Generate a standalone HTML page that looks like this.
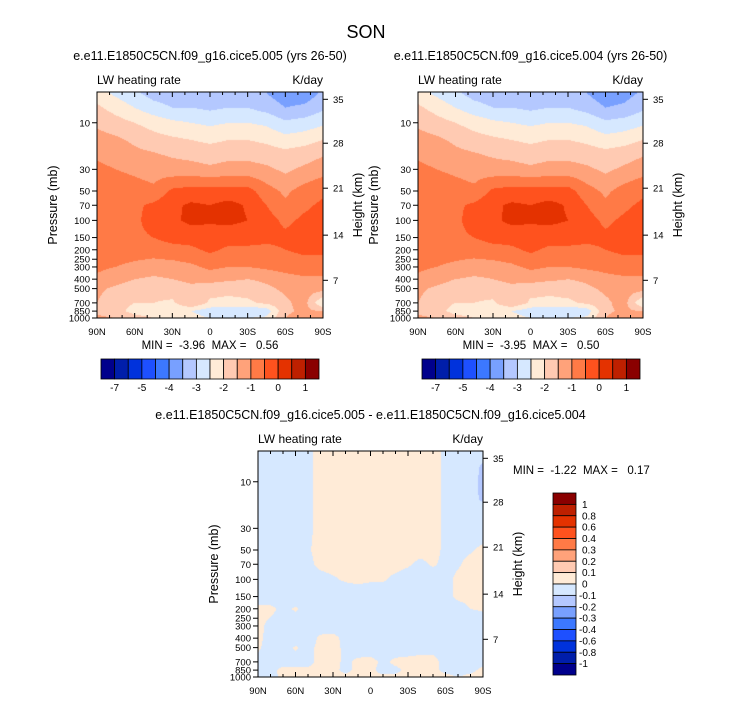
<!DOCTYPE html>
<html><head><meta charset="utf-8">
<style>
body{margin:0;background:#fff;}
#wrap{position:relative;width:733px;height:701px;overflow:hidden;font-family:"Liberation Sans",sans-serif;}
canvas{position:absolute;}
svg{position:absolute;left:0;top:0;}
.pre{white-space:pre;}
</style></head>
<body>
<div id="wrap">
<canvas id="c1"></canvas>
<canvas id="c2"></canvas>
<canvas id="c3"></canvas>
<svg id="ov" width="733" height="701"></svg>
</div>
<script>
const lats13=[90,75,60,45,30,15,0,-15,-30,-45,-60,-75,-90];
const lats19=[90,80,70,60,50,40,30,20,10,0,-10,-20,-30,-40,-50,-60,-70,-80,-90];
const plevs=[5,7,10,15,20,30,50,70,100,150,200,300,400,500,700,850,1000];
const fieldA=[
[-2.3,-2.6,-2.9,-3.2,-3.3,-3.3,-3.4,-3.3,-3.3,-3.5,-3.8,-3.8,-3.4],
[-1.9,-2.2,-2.5,-2.8,-3.0,-3.0,-3.1,-3.0,-3.0,-3.2,-3.5,-3.4,-3.1],
[-1.6,-1.8,-2.0,-2.2,-2.4,-2.5,-2.6,-2.5,-2.5,-2.6,-2.9,-2.8,-2.6],
[-1.3,-1.4,-1.6,-1.8,-1.9,-2.0,-2.1,-2.0,-2.0,-2.1,-2.3,-2.2,-2.0],
[-1.1,-1.2,-1.4,-1.5,-1.6,-1.7,-1.8,-1.7,-1.7,-1.8,-1.9,-1.8,-1.6],
[-0.9,-1.0,-1.1,-1.2,-1.3,-1.3,-1.4,-1.3,-1.3,-1.4,-1.6,-1.4,-1.2],
[-0.7,-0.7,-0.8,-0.9,-0.4,-0.3,-0.3,-0.3,-0.3,-0.8,-1.1,-0.8,-0.6],
[-0.6,-0.6,-0.6,-0.4,-0.1,0.08,0.0,0.15,-0.05,-0.5,-0.9,-0.6,-0.4],
[-0.6,-0.6,-0.6,-0.3,-0.1,0.12,0.05,0.12,0.0,-0.3,-0.6,-0.4,-0.3],
[-0.7,-0.7,-0.6,-0.5,-0.3,-0.3,-0.2,-0.3,-0.3,-0.4,-0.4,-0.3,-0.3],
[-0.8,-0.8,-0.8,-0.8,-0.7,-0.6,-0.4,-0.6,-0.6,-0.6,-0.5,-0.4,-0.4],
[-0.9,-1.0,-1.1,-1.2,-1.2,-1.1,-0.9,-1.0,-1.0,-0.9,-0.8,-0.7,-0.7],
[-1.1,-1.3,-1.5,-1.6,-1.5,-1.4,-1.3,-1.4,-1.5,-1.4,-1.2,-1.1,-1.1],
[-1.4,-1.6,-1.8,-1.8,-1.7,-1.6,-1.8,-1.9,-1.8,-1.6,-1.4,-1.3,-1.3],
[-1.5,-1.8,-2.0,-2.0,-2.1,-1.5,-2.1,-2.1,-2.1,-1.9,-1.6,-1.3,-2.5],
[-1.6,-1.8,-2.2,-2.3,-2.4,-2.5,-2.8,-3.0,-3.0,-2.8,-1.6,-1.4,-1.5],
[-1.4,-1.5,-1.8,-2.0,-2.2,-2.3,-2.5,-2.5,-2.5,-2.4,-1.5,-1.2,-1.5]];
const fieldB=[
[-2.3,-2.6,-2.9,-3.2,-3.3,-3.3,-3.4,-3.3,-3.3,-3.5,-3.8,-3.7,-3.4],
[-1.9,-2.2,-2.5,-2.8,-3.0,-3.0,-3.1,-3.0,-3.0,-3.2,-3.5,-3.4,-3.1],
[-1.6,-1.8,-2.0,-2.2,-2.4,-2.5,-2.6,-2.5,-2.5,-2.6,-2.9,-2.8,-2.6],
[-1.3,-1.4,-1.6,-1.8,-1.9,-2.0,-2.1,-2.0,-2.0,-2.1,-2.3,-2.2,-2.0],
[-1.1,-1.2,-1.4,-1.5,-1.6,-1.7,-1.8,-1.7,-1.7,-1.8,-1.9,-1.8,-1.6],
[-0.9,-1.0,-1.1,-1.2,-1.3,-1.3,-1.4,-1.3,-1.3,-1.4,-1.6,-1.4,-1.2],
[-0.7,-0.7,-0.8,-0.9,-0.4,-0.3,-0.3,-0.3,-0.3,-0.8,-1.1,-0.8,-0.6],
[-0.6,-0.6,-0.6,-0.4,-0.1,0.08,0.0,0.15,-0.05,-0.5,-0.9,-0.6,-0.4],
[-0.6,-0.6,-0.6,-0.3,-0.1,0.12,0.05,0.12,0.0,-0.3,-0.6,-0.4,-0.3],
[-0.7,-0.7,-0.6,-0.5,-0.3,-0.3,-0.2,-0.3,-0.3,-0.4,-0.4,-0.3,-0.3],
[-0.8,-0.8,-0.8,-0.8,-0.7,-0.6,-0.4,-0.6,-0.6,-0.6,-0.5,-0.4,-0.4],
[-0.9,-1.0,-1.1,-1.2,-1.2,-1.1,-0.9,-1.0,-1.0,-0.9,-0.8,-0.7,-0.7],
[-1.1,-1.3,-1.5,-1.6,-1.5,-1.4,-1.3,-1.4,-1.5,-1.4,-1.2,-1.1,-1.1],
[-1.4,-1.6,-1.8,-1.8,-1.7,-1.6,-1.8,-1.9,-1.8,-1.6,-1.4,-1.3,-1.3],
[-1.5,-1.8,-2.0,-2.0,-2.1,-1.5,-2.1,-2.1,-2.1,-1.9,-1.6,-1.3,-2.5],
[-1.6,-1.8,-2.2,-2.3,-2.4,-2.5,-2.8,-3.0,-3.0,-2.8,-1.6,-1.4,-1.5],
[-1.4,-1.5,-1.8,-2.0,-2.2,-2.3,-2.5,-2.5,-2.5,-2.4,-1.5,-1.2,-1.5]];
const fieldDiff=[
[-.05,-.05,-.05,-.05,-.02,.03,.03,.03,.03,.03,.03,.03,.03,.03,.03,-.02,-.05,-.05,-.05],
[-.05,-.05,-.05,-.05,-.02,.03,.03,.03,.03,.03,.03,.03,.03,.03,.03,-.02,-.05,-.05,-.12],
[-.05,-.05,-.05,-.05,-.02,.03,.03,.03,.03,.03,.03,.03,.03,.03,.03,-.02,-.05,-.06,-.13],
[-.05,-.05,-.05,-.05,-.02,.03,.03,.03,.03,.03,.03,.03,.03,.03,.03,-.02,-.05,-.06,-.12],
[-.05,-.05,-.05,-.05,-.02,.03,.03,.03,.03,.03,.03,.03,.03,.03,.03,-.02,-.05,-.05,-.05],
[-.05,-.05,-.05,-.05,-.02,.03,.03,.03,.03,.03,.03,.03,.03,.03,.03,-.02,-.05,-.05,-.05],
[-.05,-.05,-.05,-.05,-.01,.03,.03,.03,.03,.03,.03,.03,.03,.03,.03,-.02,-.03,-.01,.02],
[-.05,-.05,-.05,-.05,-.02,.02,.03,.03,.03,.03,.03,.03,.01,-.02,.01,-.02,-.01,.03,.04],
[-.05,-.05,-.05,-.05,-.05,-.03,-.01,.01,.02,.01,.01,-.02,-.04,-.04,-.04,-.03,.02,.03,.04],
[-.05,-.05,-.05,-.05,-.05,-.05,-.05,-.05,-.05,-.05,-.05,-.05,-.05,-.05,-.05,-.03,.02,.03,.03],
[.02,.02,-.02,.01,-.03,-.05,-.05,-.05,-.05,-.05,-.05,-.05,-.05,-.05,-.05,-.05,-.04,.0,.01],
[.02,-.02,-.05,-.05,-.05,-.05,-.05,-.05,-.05,-.05,-.05,-.05,-.05,-.05,-.05,-.05,-.05,-.05,-.05],
[.02,-.03,-.05,-.05,-.05,.02,.03,-.03,-.05,-.05,-.05,-.05,-.05,-.05,-.05,-.05,-.05,-.05,-.05],
[.01,-.03,-.04,.01,-.03,.03,.03,-.02,-.05,-.05,-.05,-.05,-.05,-.03,-.03,-.05,-.05,-.05,-.05],
[-.02,-.03,-.03,-.03,-.03,.03,.03,-.02,.02,.03,-.02,.02,.03,.03,.03,-.03,-.03,-.03,-.03],
[-.03,-.02,.02,.02,.02,.03,.02,-.02,.02,.02,-.03,-.02,.02,.02,.02,-.02,-.03,-.02,.02],
[-.03,-.03,.02,.02,.02,.02,.02,.02,.02,.02,.02,.02,.04,.03,.02,.02,.0,.02,.02]];
const levelsMain=[-7,-6,-5,-4.5,-4,-3.5,-3,-2.5,-2,-1.5,-1,-0.5,0,0.5,1];
const labelsMain=["-7","-5","-4","-3","-2","-1","0","1"];
const labelsMainIdx=[0,2,4,6,8,10,12,14];
const levelsDiff=[-1,-0.8,-0.6,-0.4,-0.3,-0.2,-0.1,0,0.1,0.2,0.3,0.4,0.6,0.8,1];
const labelsDiff=["-1","-0.8","-0.6","-0.4","-0.3","-0.2","-0.1","0","0.1","0.2","0.3","0.4","0.6","0.8","1"];
const pTicks=[10,30,50,70,100,150,200,250,300,400,500,700,850,1000];
const zTicks=[35,28,21,14,7];
const zTickP=[5.75,16.2,46.8,141.7,411];
const latTicks=[90,60,30,0,-30,-60,-90];
const latLabels=["90N","60N","30N","0","30S","60S","90S"];
const colors=[[0,0,140],[0,30,170],[0,50,220],[30,80,255],[60,120,255],[120,160,255],[180,200,255],[214,232,255],[255,235,215],[255,202,178],[255,162,122],[255,122,70],[255,82,30],[228,50,0],[190,32,0],[138,0,0]];

const PTOP=4.84;
const ov=document.getElementById('ov');
const NS='http://www.w3.org/2000/svg';
function mk(tag,attrs,name,txt){const e=document.createElementNS(NS,tag);for(const k in attrs)e.setAttribute(k,attrs[k]);


if(txt!==undefined)e.textContent=txt;ov.appendChild(e);return e;}
function yOf(P,p){return P.y+(Math.log(p)-Math.log(PTOP))/(Math.log(1000)-Math.log(PTOP))*P.h;}
function xOf(P,lat){return P.x+(90-lat)/180*P.w;}
function colIdx(v,lev){let k=0;while(k<lev.length&&v>=lev[k])k++;return k;}
function interp(field,lats,lat,p){
 let i=0;while(i<lats.length-2&&lat<lats[i+1])i++;
 let fx=(lats[i]-lat)/(lats[i]-lats[i+1]);fx=Math.max(0,Math.min(1,fx));
 const lp=Math.log(Math.max(plevs[0],Math.min(1000,p)));
 let j=0;while(j<plevs.length-2&&lp>Math.log(plevs[j+1]))j++;
 let fy=(lp-Math.log(plevs[j]))/(Math.log(plevs[j+1])-Math.log(plevs[j]));fy=Math.max(0,Math.min(1,fy));
 const a=field[j][i],b=field[j][i+1],c=field[j+1][i],d=field[j+1][i+1];
 return (a*(1-fx)+b*fx)*(1-fy)+(c*(1-fx)+d*fx)*fy;}
function drawField(id,P,field,lats,lev){
 const cv=document.getElementById(id);cv.width=P.w;cv.height=P.h;cv.style.left=P.x+'px';cv.style.top=P.y+'px';
 const ctx=cv.getContext('2d');const im=ctx.createImageData(P.w,P.h);
 const L=Math.log(1000)-Math.log(PTOP);
 for(let y=0;y<P.h;y++){const p=Math.exp(Math.log(PTOP)+(y+0.5)/P.h*L);
  for(let x=0;x<P.w;x++){const lat=90-(x+0.5)/P.w*180;const v=interp(field,lats,lat,p);
   const c=colors[colIdx(v,lev)];const o=(y*P.w+x)*4;im.data[o]=c[0];im.data[o+1]=c[1];im.data[o+2]=c[2];im.data[o+3]=255;}}
 ctx.putImageData(im,0,0);}
function axes(P,title){
 mk('rect',{x:P.x,y:P.y,width:P.w,height:P.h,fill:'none',stroke:'#000','stroke-width':1},'plot-frame');
 mk('text',{x:P.x+P.w/2,y:P.y-32,'text-anchor':'middle','font-size':12.5},'panel-title',title);
 mk('text',{x:P.x,y:P.y-8,'font-size':12},'variable-label','LW heating rate');
 mk('text',{x:P.x+P.w,y:P.y-8,'text-anchor':'end','font-size':12},'units-label','K/day');
 pTicks.forEach(p=>{const y=yOf(P,p);mk('line',{x1:P.x-5,x2:P.x,y1:y,y2:y,stroke:'#000'},'pressure-tick');
  mk('text',{x:P.x-7,y:y+3.5,'text-anchor':'end','font-size':9.5},'pressure-tick-label',String(p));});
 zTicks.forEach((z,i)=>{const y=yOf(P,zTickP[i]);mk('line',{x1:P.x+P.w,x2:P.x+P.w+5,y1:y,y2:y,stroke:'#000'},'height-tick');
  mk('text',{x:P.x+P.w+10,y:y+3.5,'font-size':9.5},'height-tick-label',String(z));});
 for(let lat=90;lat>=-90;lat-=10){const x=xOf(P,lat);const big=lat%30===0;const l=big?5:3;
  mk('line',{x1:x,x2:x,y1:P.y,y2:P.y+l,stroke:'#000'},'lat-tick-top');
  mk('line',{x1:x,x2:x,y1:P.y+P.h,y2:P.y+P.h-l,stroke:'#000'},'lat-tick-bottom');}
 latTicks.forEach((lat,i)=>mk('text',{x:xOf(P,lat),y:P.y+P.h+17,'text-anchor':'middle','font-size':9.5},'lat-tick-label',latLabels[i]));
 mk('text',{transform:`translate(${P.x-40},${P.y+P.h/2}) rotate(-90)`,'text-anchor':'middle','font-size':12.5},'y-axis-title','Pressure (mb)');
 mk('text',{transform:`translate(${P.x+P.w+39},${P.y+P.h/2}) rotate(-90)`,'text-anchor':'middle','font-size':12.5},'y-axis-right-title','Height (km)');}
function hbar(x0,y0,w,h){const bw=w/colors.length;
 colors.forEach((c,k)=>mk('rect',{x:x0+k*bw,y:y0,width:bw,height:h,fill:`rgb(${c})`,stroke:'#000','stroke-width':0.8},'colorbar-box'));
 labelsMain.forEach((t,i)=>mk('text',{x:x0+(labelsMainIdx[i]+1)*bw,y:y0+h+12,'text-anchor':'middle','font-size':10},'colorbar-label',t));}
const P1={x:97,y:92,w:226,h:226},P2={x:418,y:92,w:225,h:226},P3={x:258,y:451,w:225,h:226};
drawField('c1',P1,fieldA,lats13,levelsMain);
drawField('c2',P2,fieldB,lats13,levelsMain);
drawField('c3',P3,fieldDiff,lats19,levelsDiff);
mk('text',{x:366,y:38,'text-anchor':'middle','font-size':18},'figure-title','SON');
axes(P1,'e.e11.E1850C5CN.f09_g16.cice5.005 (yrs 26-50)');
axes(P2,'e.e11.E1850C5CN.f09_g16.cice5.004 (yrs 26-50)');
axes(P3,'e.e11.E1850C5CN.f09_g16.cice5.005 - e.e11.E1850C5CN.f09_g16.cice5.004');
mk('text',{x:210,y:349,'text-anchor':'middle','font-size':11.5,'class':'pre'},'min-max-label','MIN =  -3.96  MAX =   0.56');
mk('text',{x:531,y:349,'text-anchor':'middle','font-size':11.5,'class':'pre'},'min-max-label','MIN =  -3.95  MAX =   0.50');
mk('text',{x:513,y:474,'font-size':11.5,'class':'pre'},'min-max-label','MIN =  -1.22  MAX =   0.17');
hbar(101,359,218,20);
hbar(422,359,218,20);
(function(){const x0=553,y0=493,w=23,h=182,bh=h/colors.length;
 for(let k=0;k<colors.length;k++){const c=colors[colors.length-1-k];
  mk('rect',{x:x0,y:y0+k*bh,width:w,height:bh,fill:`rgb(${c})`,stroke:'#000','stroke-width':0.8},'diff-colorbar-box');}
 for(let i=0;i<labelsDiff.length;i++){const t=labelsDiff[labelsDiff.length-1-i];
  mk('text',{x:x0+w+(t[0]==='-'?3:6),y:y0+(i+1)*bh+3.5,'font-size':10},'diff-colorbar-label',t);}})();
</script>
</body></html>
